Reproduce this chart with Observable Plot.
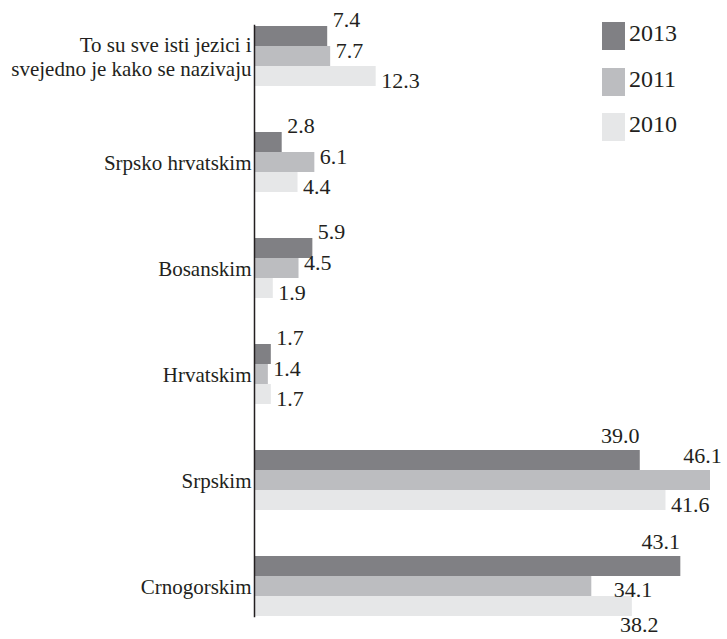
<!DOCTYPE html>
<html><head><meta charset="utf-8">
<script src="https://cdn.jsdelivr.net/npm/d3@7"></script>
<script src="https://cdn.jsdelivr.net/npm/@observablehq/plot@0.6"></script>
<style>
body{margin:0;background:#fff;}
#wrap{position:relative;width:727px;height:639px;font-family:"Liberation Serif","Times New Roman",serif;color:#231f20;}
#wrap svg{position:absolute;left:0;top:0;}
#wrap svg, #wrap svg text, #wrap svg tspan{font-family:"Liberation Serif","Times New Roman",serif !important;}
.legend{position:absolute;left:602px;top:22px;}
.item{display:flex;align-items:center;height:28px;margin-bottom:17.5px;}
.sw{width:23px;height:28px;margin-right:4px;flex:none;}
.item span{font-size:24px;line-height:28px;position:relative;top:-3px;}
</style></head><body><div id="wrap"></div>
<script>
const categories = [
  "To su sve isti jezici i\nsvejedno je kako se nazivaju",
  "Srpsko hrvatskim",
  "Bosanskim",
  "Hrvatskim",
  "Srpskim",
  "Crnogorskim"
];
const series = ["2013", "2011", "2010"];
const values2013 = [7.4, 2.8, 5.9, 1.7, 39.0, 43.1];
const values2011 = [7.7, 6.1, 4.5, 1.4, 46.1, 34.1];
const values2010 = [12.3, 4.4, 1.9, 1.7, 41.6, 38.2];
const colors = ["#808084", "#bcbdc0", "#e6e7e8"];

const seriesValues = [values2013, values2011, values2010];
const rows = categories.flatMap((c, i) => series.map((s, j) => ({category: c, series: s, value: seriesValues[j][i]})));
const xMax = d3.max(rows, d => d.value);

function place(d) {
  const i = categories.indexOf(d.category);
  if (d.series === "2013") return d.value > 30 ? "mid|-20|-25" : "start|5|-17";
  if (d.series === "2011") {
    if (d.value / xMax > 0.95) return "mid|-8|-25";
    if (values2013[i] - d.value > 4) return "start|22|3";
    return "start|5|-6";
  }
  if (d.value > 30 && d.value < values2013[i]) return "mid|7|18";
  return "start|5|4";
}
const groups = d3.group(rows, place);
const textMarks = Array.from(groups, ([key, arr]) => {
  const [a, dx, dy] = key.split("|");
  return Plot.text(arr, {
    x: "value", y: "series", fy: "category",
    text: d => d.value.toFixed(1),
    textAnchor: a === "mid" ? "middle" : "start",
    dx: +dx, dy: +dy, fontSize: 22, fill: "#231f20",
    fontFamily: "Liberation Serif"
  });
});

const chart = Plot.plot({
  width: 727,
  height: 639,
  marginLeft: 254,
  marginRight: 17,
  marginTop: 5,
  marginBottom: 17,
  style: {fontFamily: "Liberation Serif, serif", fontSize: "21px", color: "#231f20", background: "transparent"},
  x: {domain: [0, xMax], axis: null},
  y: {domain: series, axis: null, padding: 0},
  fy: {domain: categories, paddingInner: 0.42, paddingOuter: 0.119, align: 0.78, label: null, axis: null},
  color: {domain: series, range: colors},
  marks: [
    Plot.barX(rows, {x: "value", y: "series", fy: "category", fill: "series"}),
    ...textMarks,
    Plot.frame({anchor: "left", facet: "super", stroke: "#231f20", strokeWidth: 1.5}),
    Plot.axisFy({anchor: "left", tickSize: 0, tickPadding: 3, fontSize: 21, lineHeight: 1.19, label: null, fill: "#231f20", fontFamily: "Liberation Serif"})
  ]
});
const wrap = document.getElementById("wrap");
wrap.appendChild(chart);

const legend = document.createElement("div");
legend.className = "legend";
series.forEach((s, j) => {
  const it = document.createElement("div");
  it.className = "item";
  const sw = document.createElement("div");
  sw.className = "sw";
  sw.style.background = colors[j];
  const t = document.createElement("span");
  t.textContent = s;
  it.appendChild(sw); it.appendChild(t);
  legend.appendChild(it);
});
wrap.appendChild(legend);
</script>
</body></html>
